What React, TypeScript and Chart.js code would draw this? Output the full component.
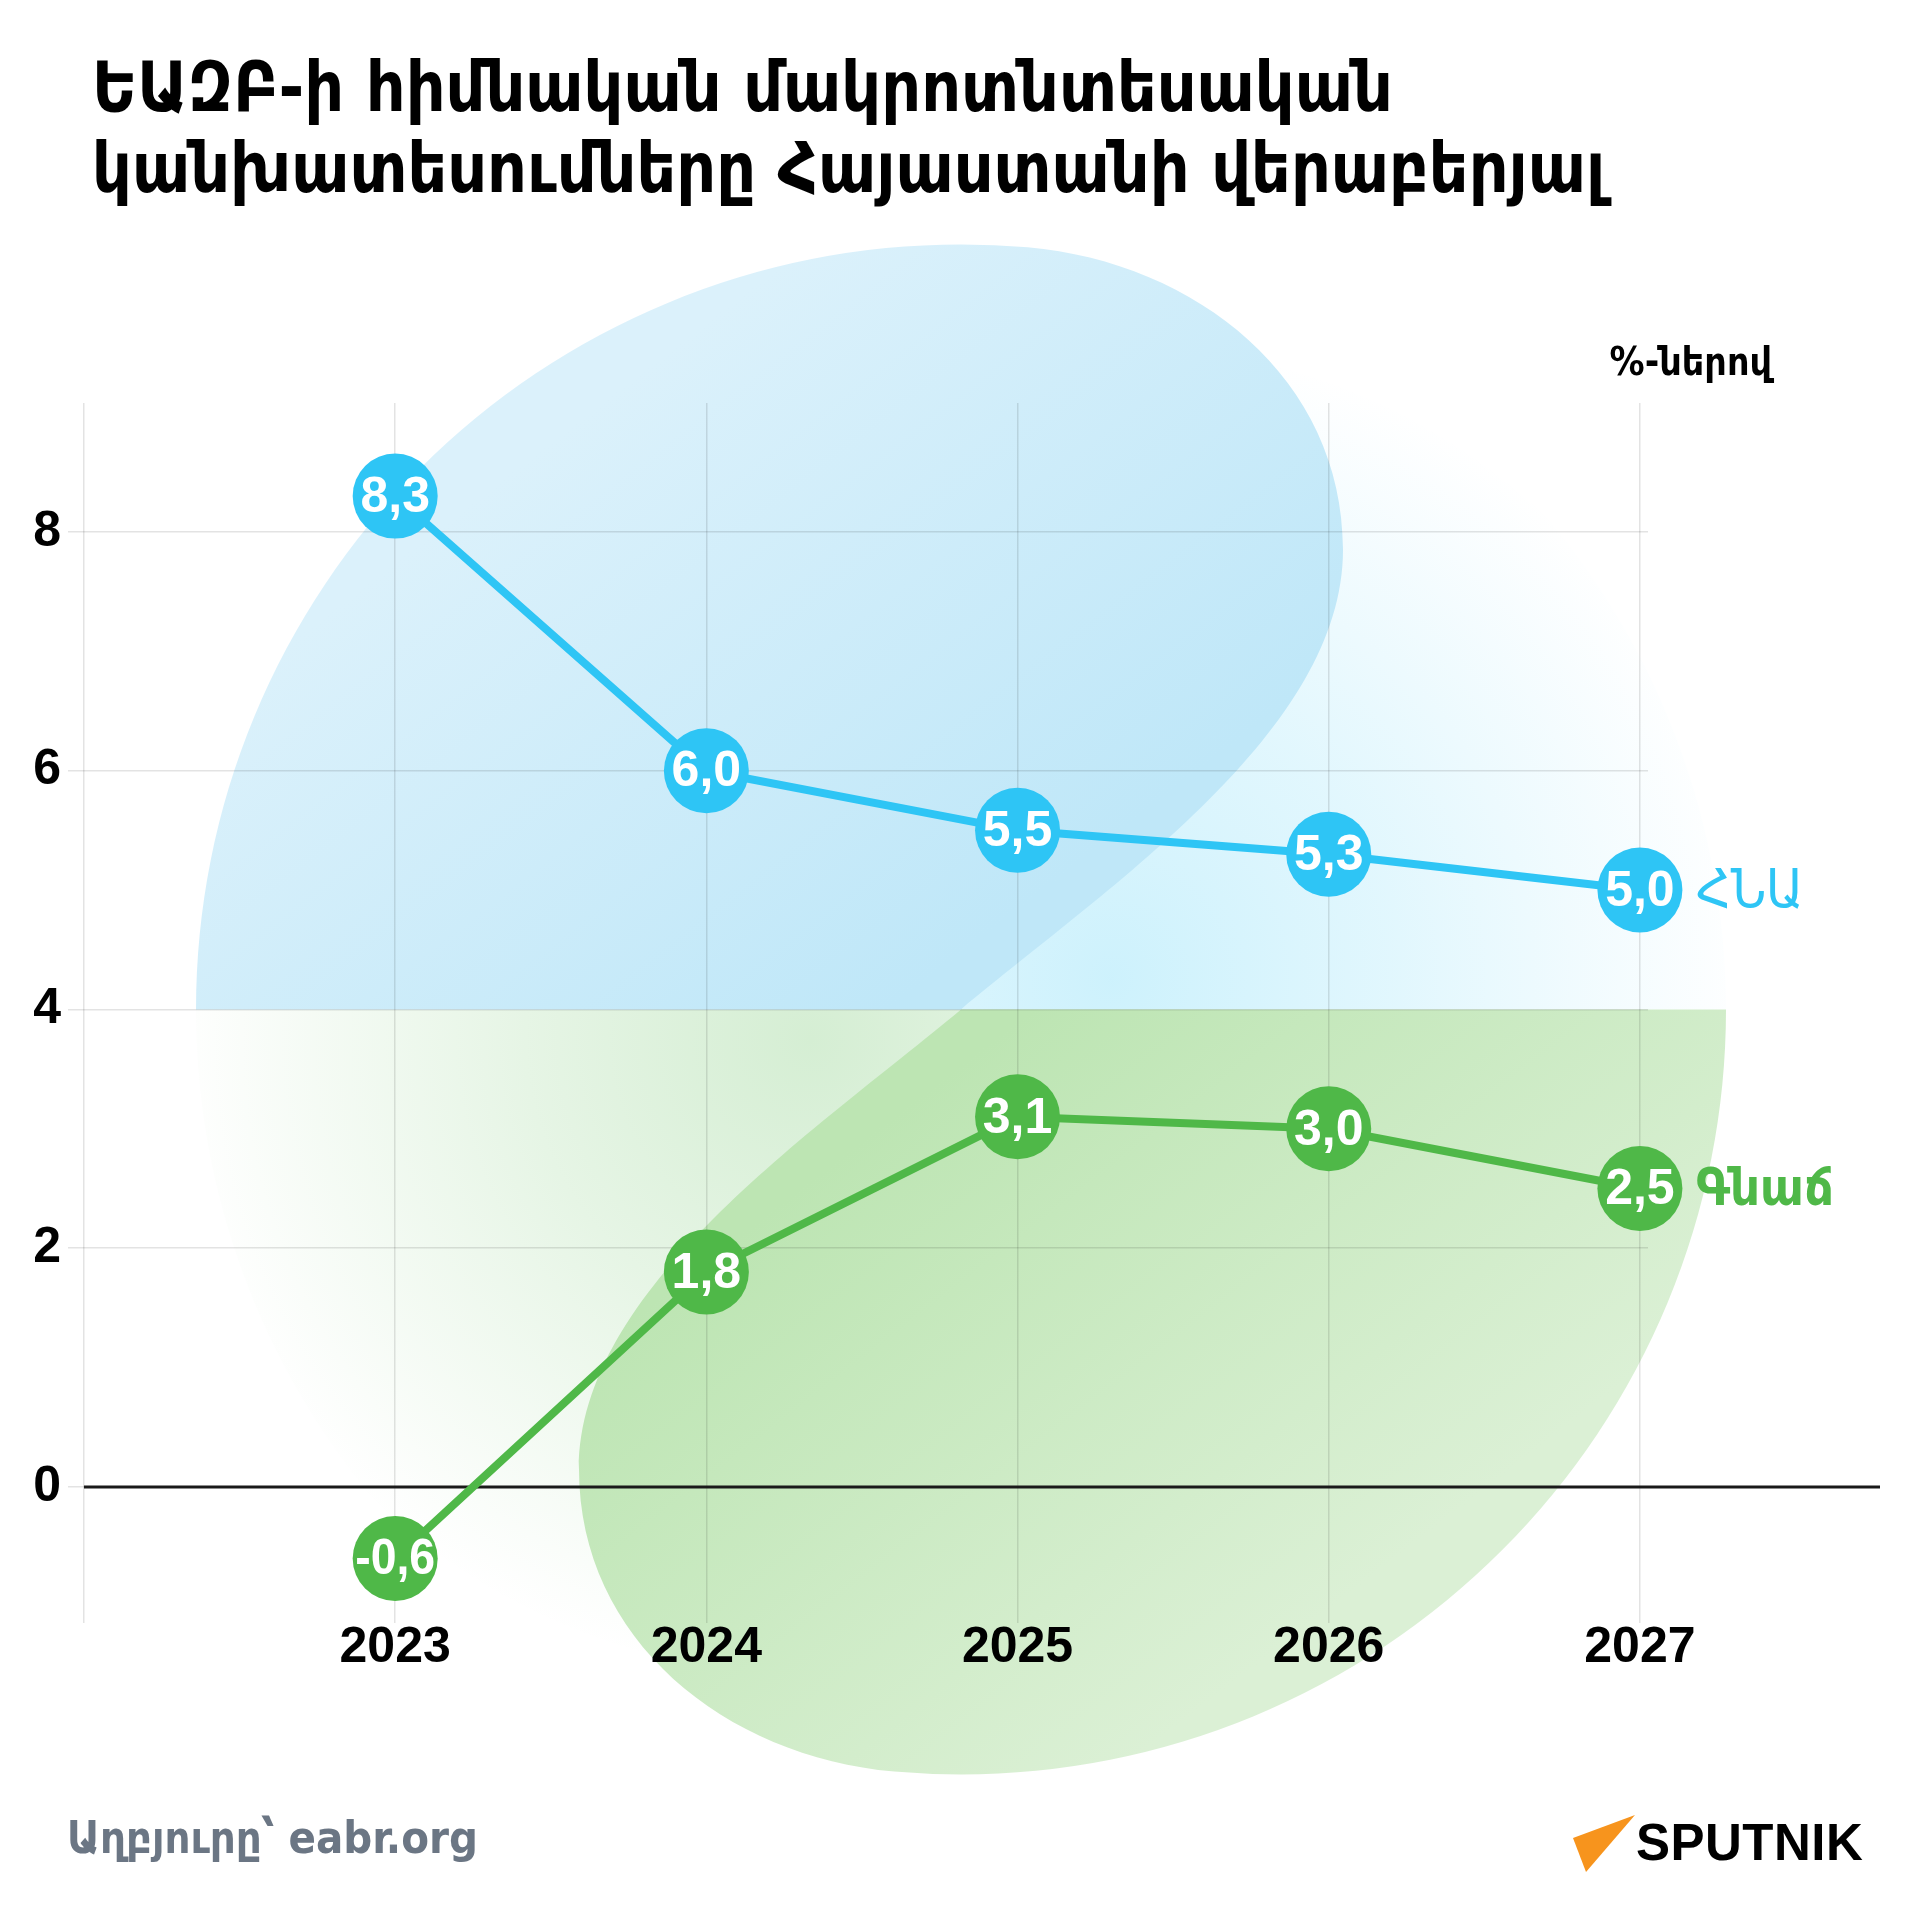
import React, { useEffect, useRef } from 'react';
import { Chart, registerables } from 'chart.js';

Chart.register(...registerables);

// ---- data ----
const years = [2023, 2024, 2025, 2026, 2027];
const gdpGrowth = [8.3, 6.0, 5.5, 5.3, 5.0];
const inflation = [-0.6, 1.8, 3.1, 3.0, 2.5];
const seriesNames = ['ՀՆԱ', 'Գնաճ'];
const seriesColors = ['#2ec5f5', '#4fb848'];
const yTickStep = 2;
const yMin = -1.14;
const yMax = 9.08;
const xMin = 2022;
const xMax = 2027.026;
const titleLines = ['ԵԱԶԲ-ի հիմնական մակրոտնտեսական', 'կանխատեսումները Հայաստանի վերաբերյալ'];
const unitLabel = '%-ներով';
const sourceLabel = 'Աղբյուրը՝ eabr.org';
const brandLabel = 'SPUTNIK';

const ARM_FONT = '"DejaVu Sans Condensed", "DejaVu Sans", sans-serif';
const NUM_FONT = '"Liberation Sans", Arial, sans-serif';

const fmt = (v: number) => v.toFixed(1).replace('.', ',');

// decorative background (circle split into two leaves)
const R = 765;
const leafPath = (ctx: CanvasRenderingContext2D) => {
  const a1 = -85 * Math.PI / 180;
  ctx.beginPath();
  ctx.moveTo(-R, 0);
  ctx.arc(0, 0, R, Math.PI, 2 * Math.PI + a1, false);
  ctx.bezierCurveTo(236, -747, 382, -630, 382, -460);
  ctx.bezierCurveTo(382, -279, 150, -125, 0, 0);
  ctx.closePath();
};

const bgPlugin = {
  id: 'bgDecor',
  beforeDraw(chart: any) {
    const ctx: CanvasRenderingContext2D = chart.ctx;
    const cy = chart.scales.y.getPixelForValue(4);
    const cx = 961;
    ctx.save();
    ctx.fillStyle = '#ffffff';
    ctx.fillRect(0, 0, chart.width, chart.height);
    ctx.translate(cx, cy);

    // blue glow (upper half)
    ctx.save();
    ctx.beginPath();
    ctx.arc(0, 0, R, Math.PI, 2 * Math.PI);
    ctx.closePath();
    let g = ctx.createRadialGradient(150, -30, 0, 150, -30, 640);
    g.addColorStop(0, 'rgba(47,198,244,0.24)');
    g.addColorStop(0.45, 'rgba(47,198,244,0.14)');
    g.addColorStop(0.8, 'rgba(47,198,244,0.05)');
    g.addColorStop(1, 'rgba(47,198,244,0)');
    ctx.fillStyle = g;
    ctx.fill();
    ctx.restore();

    // green glow (lower half)
    ctx.save();
    ctx.beginPath();
    ctx.arc(0, 0, R, 0, Math.PI);
    ctx.closePath();
    g = ctx.createRadialGradient(-150, 30, 0, -150, 30, 640);
    g.addColorStop(0, 'rgba(79,184,72,0.24)');
    g.addColorStop(0.45, 'rgba(79,184,72,0.14)');
    g.addColorStop(0.8, 'rgba(79,184,72,0.05)');
    g.addColorStop(1, 'rgba(79,184,72,0)');
    ctx.fillStyle = g;
    ctx.fill();
    ctx.restore();

    // blue leaf
    leafPath(ctx);
    let lg = ctx.createLinearGradient(-420, -560, -20, -40);
    lg.addColorStop(0, '#dbf1fb');
    lg.addColorStop(1, '#bfe7f8');
    ctx.fillStyle = lg;
    ctx.fill();

    // green leaf (rotated half-turn)
    ctx.rotate(Math.PI);
    leafPath(ctx);
    lg = ctx.createLinearGradient(-20, -40, -420, -560);
    lg.addColorStop(0, '#bde5b3');
    lg.addColorStop(1, '#dbf0d5');
    ctx.fillStyle = lg;
    ctx.fill();
    ctx.restore();
  },
};

const zeroLinePlugin = {
  id: 'zeroLine',
  beforeDatasetsDraw(chart: any) {
    const ctx: CanvasRenderingContext2D = chart.ctx;
    const y0 = chart.scales.y.getPixelForValue(0);
    ctx.save();
    ctx.strokeStyle = '#1a1a1a';
    ctx.lineWidth = 3;
    ctx.beginPath();
    ctx.moveTo(chart.chartArea.left, y0);
    ctx.lineTo(1880, y0);
    ctx.stroke();
    ctx.restore();
  },
};

const labelPlugin = {
  id: 'pointLabels',
  afterDatasetsDraw(chart: any) {
    const ctx: CanvasRenderingContext2D = chart.ctx;
    chart.data.datasets.forEach((ds: any, i: number) => {
      const meta = chart.getDatasetMeta(i);
      ctx.save();
      ctx.fillStyle = '#ffffff';
      ctx.font = `bold 50px ${NUM_FONT}`;
      ctx.textAlign = 'center';
      ctx.textBaseline = 'middle';
      meta.data.forEach((pt: any, j: number) => {
        ctx.fillText(fmt(ds.data[j].y), pt.x, pt.y + 2, 80);
      });
      const last = meta.data[meta.data.length - 1];
      ctx.fillStyle = seriesColors[i];
      ctx.font = `${i === 1 ? 'bold ' : ''}${i === 1 ? 52 : 54}px ${ARM_FONT}`;
      ctx.textAlign = 'left';
      ctx.fillText(seriesNames[i], last.x + 56, last.y + 3);
      ctx.restore();
    });
  },
};

export default function App() {
  const ref = useRef<HTMLCanvasElement>(null);
  useEffect(() => {
    const series = [gdpGrowth, inflation];
    const chart = new Chart(ref.current as HTMLCanvasElement, {
      type: 'line',
      data: {
        datasets: series.map((vals, i) => ({
          label: seriesNames[i],
          data: years.map((yr, j) => ({ x: yr, y: vals[j] })),
          borderColor: seriesColors[i],
          backgroundColor: seriesColors[i],
          pointBackgroundColor: seriesColors[i],
          pointBorderWidth: 0,
          pointRadius: 42.5,
          pointHoverRadius: 42.5,
          borderWidth: 8,
          tension: 0,
          clip: false as any,
        })),
      },
      options: {
        responsive: false,
        animation: false,
        devicePixelRatio: 1,
        events: [],
        layout: { padding: { left: 0, right: 272, top: 403, bottom: 197 } },
        plugins: { legend: { display: false }, tooltip: { enabled: false }, title: { display: false } },
        scales: {
          x: {
            type: 'linear',
            min: xMin,
            max: xMax,
            border: { display: false },
            grid: { color: 'rgba(0,0,0,0.11)', lineWidth: 1.5, drawTicks: false },
            ticks: {
              stepSize: 1,
              includeBounds: false,
              autoSkip: false,
              maxRotation: 0,
              padding: 0,
              color: '#000',
              font: { family: NUM_FONT, size: 50, weight: 'bold', lineHeight: 1 },
              callback: (v: any) => (v === xMin ? '' : String(v)),
            },
            afterFit: (s: any) => { s.height = 100; },
          },
          y: {
            type: 'linear',
            min: yMin,
            max: yMax,
            border: { display: false },
            grid: { color: 'rgba(0,0,0,0.11)', lineWidth: 1.5, tickLength: 16, drawTicks: true },
            ticks: {
              stepSize: yTickStep,
              includeBounds: false,
              padding: 7,
              color: '#000',
              font: { family: NUM_FONT, size: 50, weight: 'bold' },
              callback: (v: any) => String(v),
            },
            afterFit: (s: any) => { s.width = 84; },
          },
        },
      },
      plugins: [bgPlugin, zeroLinePlugin, labelPlugin],
    } as any);
    return () => chart.destroy();
  }, []);

  return (
    <div style={{ position: 'absolute', left: 0, top: 0, width: 1920, height: 1920, background: '#fff', overflow: 'hidden' }}>
      <canvas ref={ref} width={1920} height={1920} style={{ position: 'absolute', left: 0, top: 0, width: 1920, height: 1920 }} />
      <div style={{ position: 'absolute', left: 92, top: 47, fontFamily: ARM_FONT, fontWeight: 700, fontSize: 69, lineHeight: '81px', color: '#000', whiteSpace: 'nowrap' }}>
        {titleLines.map((t) => (<div key={t}>{t}</div>))}
      </div>
      <div style={{ position: 'absolute', right: 148, top: 340, fontFamily: ARM_FONT, fontWeight: 700, fontSize: 39, lineHeight: '44px', color: '#000', whiteSpace: 'nowrap' }}>
        {unitLabel}
      </div>
      <div style={{ position: 'absolute', left: 67, top: 1812, fontFamily: ARM_FONT, fontWeight: 700, fontSize: 45, lineHeight: '52px', color: '#6b7684', whiteSpace: 'nowrap' }}>
        {sourceLabel}
      </div>
      <svg width={1920} height={1920} style={{ position: 'absolute', left: 0, top: 0 }}>
        <polygon points="1635,1815 1573,1838 1586,1872" fill="#f7941d" />
      </svg>
      <div style={{ position: 'absolute', left: 1636, top: 1814, fontFamily: NUM_FONT, fontWeight: 900, fontSize: 51, lineHeight: '58px', color: '#000', whiteSpace: 'nowrap', letterSpacing: '0.5px' }}>
        {brandLabel}
      </div>
    </div>
  );
}
